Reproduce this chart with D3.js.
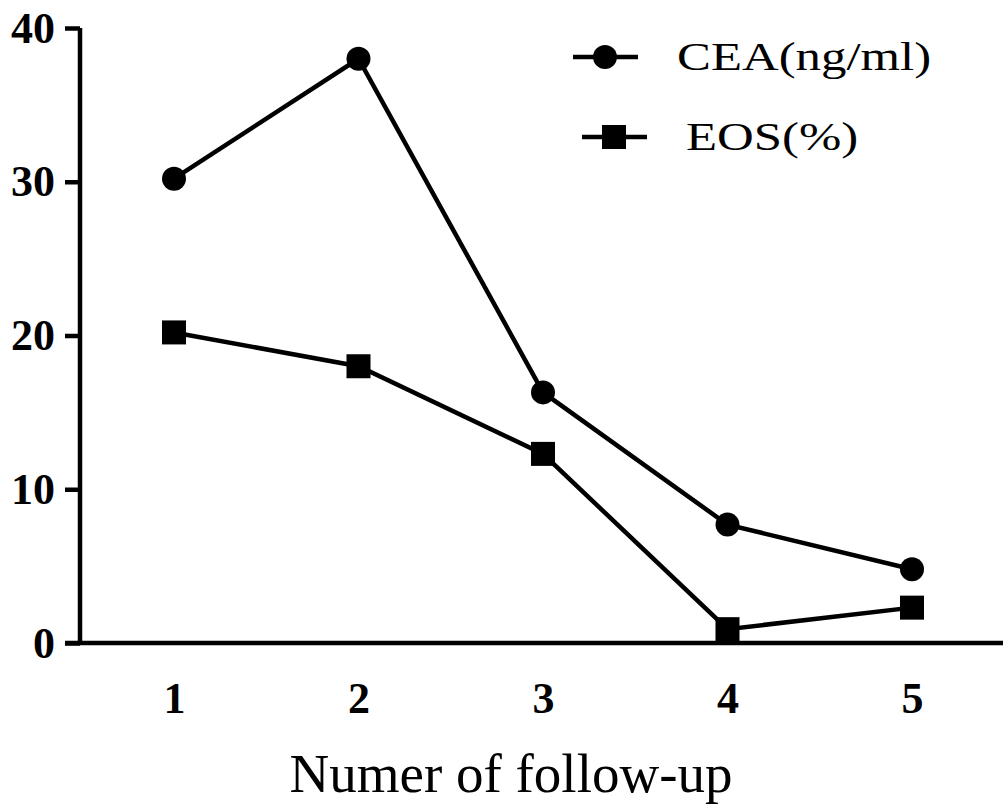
<!DOCTYPE html>
<html>
<head>
<meta charset="utf-8">
<script src="https://cdn.jsdelivr.net/npm/d3@7"></script>
<style>
body { margin: 0; background: #fff; }
svg text { font-family: "Liberation Serif", "DejaVu Serif", serif; fill: #000; }
</style>
</head>
<body>
<div id="chart"></div>
<script>
// follow-up visits and readings
var visits = [1, 2, 3, 4, 5];
var ceaValues = [30.2, 38.0, 16.3, 7.7, 4.8];
var eosValues = [20.2, 18.0, 12.3, 0.9, 2.3];
var yTicks = [0, 10, 20, 30, 40];
var seriesNames = ["CEA(ng/ml)", "EOS(%)"];

var width = 1003, height = 809;

var svg = d3.select("#chart").append("svg")
	.attr("width", width)
	.attr("height", height);

var x = d3.scaleLinear().domain([1, 5]).range([174, 912]);
var y = d3.scaleLinear().domain([0, 40]).range([643, 28]);

// y axis
var yAxis = svg.append("g")
	.attr("transform", "translate(80,0)")
	.call(d3.axisLeft(y).tickValues(yTicks).tickSize(15).tickPadding(10));
yAxis.select(".domain").attr("d", "M0," + y(40) + "V" + y(0)).attr("stroke-width", 4.5);
yAxis.selectAll(".tick line").attr("stroke-width", 4.5);
yAxis.selectAll(".tick text")
	.attr("font-size", 44).attr("font-weight", "bold");

// x axis: plain line, no tick marks
var xAxis = svg.append("g")
	.attr("transform", "translate(0," + y(0) + ")")
	.call(d3.axisBottom(x).tickValues(visits).tickFormat(d3.format("d")).tickSize(0).tickPadding(39));
xAxis.select(".domain").attr("d", "M65,0H1003").attr("stroke-width", 4.5);
xAxis.selectAll(".tick text")
	.attr("font-size", 44).attr("font-weight", "bold");

svg.append("text")
	.attr("x", 511).attr("y", 792)
	.attr("text-anchor", "middle")
	.attr("font-size", 55)
	.text("Numer of follow-up");

var line = d3.line()
	.x(function (d, i) { return x(visits[i]); })
	.y(function (d) { return y(d); });

svg.append("path").datum(ceaValues)
	.attr("d", line).attr("fill", "none").attr("stroke", "#000").attr("stroke-width", 4.5);
svg.append("path").datum(eosValues)
	.attr("d", line).attr("fill", "none").attr("stroke", "#000").attr("stroke-width", 4.5);

svg.selectAll(".cea").data(ceaValues).enter().append("circle")
	.attr("cx", function (d, i) { return x(visits[i]); })
	.attr("cy", function (d) { return y(d); })
	.attr("r", 12).attr("fill", "#000");

svg.selectAll(".eos").data(eosValues).enter().append("rect")
	.attr("x", function (d, i) { return x(visits[i]) - 12; })
	.attr("y", function (d) { return y(d) - 12; })
	.attr("width", 24).attr("height", 24).attr("fill", "#000");

// legend (text is drawn a bit wide, as in the original)
var legend = svg.append("g");
legend.append("line").attr("x1", 573).attr("x2", 638).attr("y1", 57).attr("y2", 57)
	.attr("stroke", "#000").attr("stroke-width", 4.5);
legend.append("circle").attr("cx", 605).attr("cy", 57).attr("r", 12).attr("fill", "#000");
legend.append("text").attr("transform", "translate(677,70) scale(1.24,1)")
	.attr("font-size", 41).text(seriesNames[0]);

legend.append("line").attr("x1", 582).attr("x2", 647).attr("y1", 137).attr("y2", 137)
	.attr("stroke", "#000").attr("stroke-width", 4.5);
legend.append("rect").attr("x", 602).attr("y", 125).attr("width", 24).attr("height", 24).attr("fill", "#000");
legend.append("text").attr("transform", "translate(686,150) scale(1.24,1)")
	.attr("font-size", 41).text(seriesNames[1]);
</script>
</body>
</html>
